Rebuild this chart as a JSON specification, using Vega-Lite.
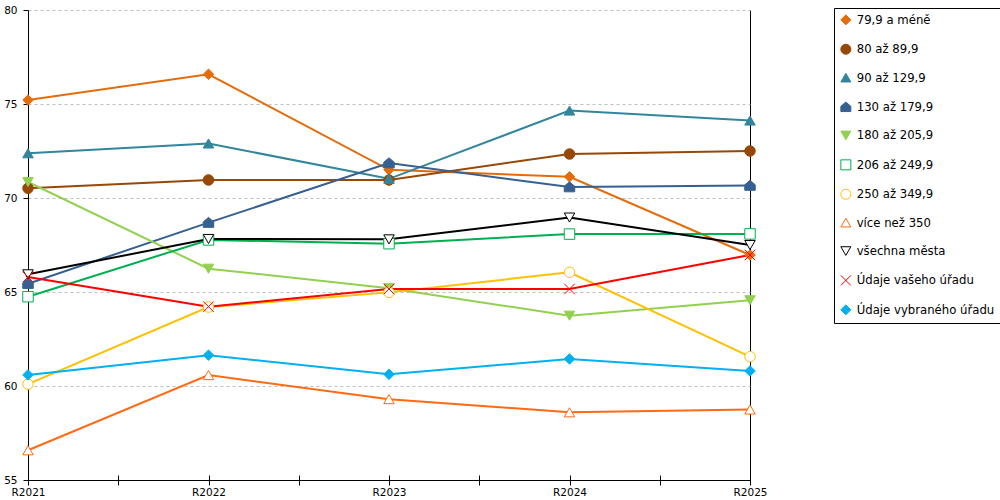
{
  "$schema": "https://vega.github.io/schema/vega-lite/v6.json",
  "width": 722,
  "height": 470,
  "autosize": {"type": "none"},
  "padding": {"left": 28, "top": 10, "right": 250, "bottom": 20},
  "background": "white",
  "config": {
    "view": {"stroke": null},
    "font": "DejaVu Sans",
    "axis": {"labelFont": "DejaVu Sans", "labelFontSize": 10.5, "labelColor": "black", "tickColor": "black", "domainColor": "black", "title": null},
    "legend": {
      "orient": "none", "legendX": 806, "legendY": -2,
      "strokeColor": "black", "fillColor": "white", "padding": 6,
      "rowPadding": 14.4, "labelFont": "DejaVu Sans", "labelFontSize": 11.7,
      "labelColor": "black", "labelOffset": 5, "symbolSize": 100,
      "symbolStrokeWidth": 1, "labelLimit": 300
    }
  },
  "data": {
    "values": [
      {"rok": 2021, "serie": "79,9 a méně", "hodnota": 75.21},
      {"rok": 2022, "serie": "79,9 a méně", "hodnota": 76.58},
      {"rok": 2023, "serie": "79,9 a méně", "hodnota": 71.5},
      {"rok": 2024, "serie": "79,9 a méně", "hodnota": 71.13},
      {"rok": 2025, "serie": "79,9 a méně", "hodnota": 66.97},
      {"rok": 2021, "serie": "80 až 89,9", "hodnota": 70.52},
      {"rok": 2022, "serie": "80 až 89,9", "hodnota": 70.96},
      {"rok": 2023, "serie": "80 až 89,9", "hodnota": 70.96},
      {"rok": 2024, "serie": "80 až 89,9", "hodnota": 72.34},
      {"rok": 2025, "serie": "80 až 89,9", "hodnota": 72.5},
      {"rok": 2021, "serie": "90 až 129,9", "hodnota": 72.38},
      {"rok": 2022, "serie": "90 až 129,9", "hodnota": 72.9},
      {"rok": 2023, "serie": "90 až 129,9", "hodnota": 71.02},
      {"rok": 2024, "serie": "90 až 129,9", "hodnota": 74.65},
      {"rok": 2025, "serie": "90 až 129,9", "hodnota": 74.12},
      {"rok": 2021, "serie": "130 až 179,9", "hodnota": 65.44},
      {"rok": 2022, "serie": "130 až 179,9", "hodnota": 68.69},
      {"rok": 2023, "serie": "130 až 179,9", "hodnota": 71.86},
      {"rok": 2024, "serie": "130 až 179,9", "hodnota": 70.58},
      {"rok": 2025, "serie": "130 až 179,9", "hodnota": 70.66},
      {"rok": 2021, "serie": "180 až 205,9", "hodnota": 70.85},
      {"rok": 2022, "serie": "180 až 205,9", "hodnota": 66.24},
      {"rok": 2023, "serie": "180 až 205,9", "hodnota": 65.2},
      {"rok": 2024, "serie": "180 až 205,9", "hodnota": 63.74},
      {"rok": 2025, "serie": "180 až 205,9", "hodnota": 64.56},
      {"rok": 2021, "serie": "206 až 249,9", "hodnota": 64.75},
      {"rok": 2022, "serie": "206 až 249,9", "hodnota": 67.77},
      {"rok": 2023, "serie": "206 až 249,9", "hodnota": 67.57},
      {"rok": 2024, "serie": "206 až 249,9", "hodnota": 68.08},
      {"rok": 2025, "serie": "206 až 249,9", "hodnota": 68.09},
      {"rok": 2021, "serie": "250 až 349,9", "hodnota": 60.1},
      {"rok": 2022, "serie": "250 až 349,9", "hodnota": 64.2},
      {"rok": 2023, "serie": "250 až 349,9", "hodnota": 64.98},
      {"rok": 2024, "serie": "250 až 349,9", "hodnota": 66.05},
      {"rok": 2025, "serie": "250 až 349,9", "hodnota": 61.56},
      {"rok": 2021, "serie": "více než 350", "hodnota": 56.58},
      {"rok": 2022, "serie": "více než 350", "hodnota": 60.58},
      {"rok": 2023, "serie": "více než 350", "hodnota": 59.3},
      {"rok": 2024, "serie": "více než 350", "hodnota": 58.6},
      {"rok": 2025, "serie": "více než 350", "hodnota": 58.75},
      {"rok": 2021, "serie": "všechna města", "hodnota": 65.94},
      {"rok": 2022, "serie": "všechna města", "hodnota": 67.82},
      {"rok": 2023, "serie": "všechna města", "hodnota": 67.8},
      {"rok": 2024, "serie": "všechna města", "hodnota": 68.96},
      {"rok": 2025, "serie": "všechna města", "hodnota": 67.5},
      {"rok": 2021, "serie": "Údaje vašeho úřadu", "hodnota": 65.8},
      {"rok": 2022, "serie": "Údaje vašeho úřadu", "hodnota": 64.22},
      {"rok": 2023, "serie": "Údaje vašeho úřadu", "hodnota": 65.16},
      {"rok": 2024, "serie": "Údaje vašeho úřadu", "hodnota": 65.16},
      {"rok": 2025, "serie": "Údaje vašeho úřadu", "hodnota": 66.97},
      {"rok": 2021, "serie": "Údaje vybraného úřadu", "hodnota": 60.59},
      {"rok": 2022, "serie": "Údaje vybraného úřadu", "hodnota": 61.64},
      {"rok": 2023, "serie": "Údaje vybraného úřadu", "hodnota": 60.62},
      {"rok": 2024, "serie": "Údaje vybraného úřadu", "hodnota": 61.44},
      {"rok": 2025, "serie": "Údaje vybraného úřadu", "hodnota": 60.8}
    ]
  },
  "encoding": {
    "x": {
      "field": "rok", "type": "quantitative",
      "scale": {"domain": [2021, 2025], "nice": false, "zero": false},
      "axis": {
        "values": [2021, 2021.5, 2022, 2022.5, 2023, 2023.5, 2024, 2024.5, 2025],
        "labelExpr": "datum.value % 1 === 0 ? 'R' + datum.value : ''",
        "labelFlush": false, "labelOverlap": false, "domain": false,
        "offset": -5, "tickSize": 10, "labelPadding": 2,
        "grid": true,
        "gridColor": {"condition": {"test": "datum.value === 2025", "value": "black"}, "value": "transparent"},
        "gridWidth": 1
      }
    },
    "y": {
      "field": "hodnota", "type": "quantitative",
      "scale": {"domain": [55, 80], "nice": false, "zero": false},
      "axis": {
        "values": [55, 60, 65, 70, 75, 80],
        "tickSize": 5, "labelPadding": 6, "domain": true,
        "grid": true,
        "gridColor": {"condition": {"test": "datum.value === 55", "value": "black"}, "value": "#BFBFBF"},
        "gridDash": {"condition": {"test": "datum.value === 55", "value": []}, "value": [3, 3]}
      }
    },
    "stroke": {
      "field": "serie", "type": "nominal", "sort": null, "title": null,
      "scale": {
        "domain": ["79,9 a méně", "80 až 89,9", "90 až 129,9", "130 až 179,9", "180 až 205,9", "206 až 249,9", "250 až 349,9", "více než 350", "všechna města", "Údaje vašeho úřadu", "Údaje vybraného úřadu"],
        "range": ["#E46C0A", "#974806", "#31859C", "#376092", "#92D050", "#00B050", "#FFC000", "#FF6A13", "#000000", "#FF0000", "#00B0F0"]
      }
    }
  },
  "layer": [
    {
      "mark": {"type": "line", "strokeWidth": 2},
      "encoding": {}
    },
    {
      "mark": {"type": "point", "size": 110, "strokeWidth": 1, "opacity": 1},
      "encoding": {
        "shape": {
          "field": "serie", "type": "nominal", "sort": null, "title": null,
          "scale": {
            "domain": ["79,9 a méně", "80 až 89,9", "90 až 129,9", "130 až 179,9", "180 až 205,9", "206 až 249,9", "250 až 349,9", "více než 350", "všechna města", "Údaje vašeho úřadu", "Údaje vybraného úřadu"],
            "range": ["diamond", "circle", "triangle-up", "M0,-1L1,-0.15L1,0.9L-1,0.9L-1,-0.15Z", "triangle-down", "square", "circle", "triangle-up", "triangle-down", "M-1,-1L1,1M-1,1L1,-1", "diamond"]
          }
        },
        "fill": {
          "field": "serie", "type": "nominal", "sort": null, "title": null,
          "scale": {
            "domain": ["79,9 a méně", "80 až 89,9", "90 až 129,9", "130 až 179,9", "180 až 205,9", "206 až 249,9", "250 až 349,9", "více než 350", "všechna města", "Údaje vašeho úřadu", "Údaje vybraného úřadu"],
            "range": ["#E46C0A", "#974806", "#31859C", "#376092", "#92D050", "white", "white", "white", "white", "transparent", "#00B0F0"]
          }
        }
      }
    }
  ]
}
